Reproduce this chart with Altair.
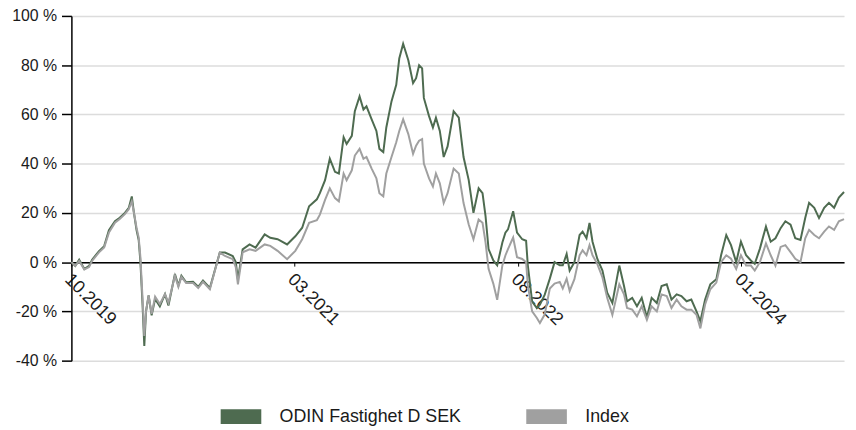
import altair as alt
import pandas as pd

series_names = ["ODIN Fastighet D SEK", "Index"]
series_colors = ["#4e6b50", "#a0a0a0"]
y_ticks = [-40, -20, 0, 20, 40, 60, 80, 100]
x_tick_dates = [(2019, 10, 1), (2021, 3, 1), (2022, 8, 1), (2024, 1, 1)]
x_domain = [(2019, 10, 1), (2024, 8, 26)]

dates = [
    "2019-10-01", "2019-10-10", "2019-10-19", "2019-10-31", "2019-11-11", "2019-11-18", "2019-12-04", "2019-12-16", "2019-12-27",
    "2020-01-10", "2020-01-21", "2020-02-02", "2020-02-11", "2020-02-18", "2020-02-23", "2020-02-29", "2020-03-05", "2020-03-09", "2020-03-14",
    "2020-03-18", "2020-03-22", "2020-03-28", "2020-04-04", "2020-04-12", "2020-04-23", "2020-05-05", "2020-05-13", "2020-05-28", "2020-06-05",
    "2020-06-12", "2020-06-23", "2020-07-09", "2020-07-21", "2020-08-01", "2020-08-17", "2020-09-09", "2020-09-21", "2020-10-09", "2020-10-16",
    "2020-10-21", "2020-11-01", "2020-11-17", "2020-12-01", "2020-12-22",
    "2021-01-04", "2021-01-21", "2021-02-12", "2021-03-03", "2021-03-19", "2021-04-04", "2021-04-22", "2021-04-29", "2021-05-11", "2021-05-22",
    "2021-06-03", "2021-06-12", "2021-06-23", "2021-06-30", "2021-07-12", "2021-07-19", "2021-07-30", "2021-08-08", "2021-08-15", "2021-08-27",
    "2021-09-07", "2021-09-14", "2021-09-23", "2021-09-30", "2021-10-12", "2021-10-23", "2021-10-30", "2021-11-08", "2021-11-20", "2021-12-01",
    "2021-12-08", "2021-12-15", "2021-12-22", "2021-12-26",
    "2022-01-07", "2022-01-16", "2022-01-23", "2022-02-01", "2022-02-10", "2022-02-19", "2022-03-05", "2022-03-17", "2022-03-28", "2022-04-09",
    "2022-04-20", "2022-05-02", "2022-05-11", "2022-05-18", "2022-05-25", "2022-06-05", "2022-06-14", "2022-06-26", "2022-07-03", "2022-07-09",
    "2022-07-21", "2022-07-30", "2022-08-11", "2022-08-20", "2022-08-24", "2022-09-03", "2022-09-14", "2022-09-21", "2022-10-02", "2022-10-14",
    "2022-10-25", "2022-11-06", "2022-11-13", "2022-11-22", "2022-11-29", "2022-12-10", "2022-12-22", "2022-12-29",
    "2023-01-07", "2023-01-14", "2023-01-21", "2023-02-01", "2023-02-13", "2023-02-24", "2023-03-08", "2023-03-24", "2023-04-04", "2023-04-11",
    "2023-04-23", "2023-05-04", "2023-05-15", "2023-05-27", "2023-06-07", "2023-06-19", "2023-06-30", "2023-07-12", "2023-07-23", "2023-08-04",
    "2023-08-15", "2023-08-27", "2023-09-07", "2023-09-19", "2023-09-28", "2023-10-09", "2023-10-21", "2023-11-04", "2023-11-15", "2023-11-27",
    "2023-12-08", "2023-12-20", "2023-12-31",
    "2024-01-12", "2024-01-23", "2024-02-01", "2024-02-13", "2024-02-27", "2024-03-09", "2024-03-20", "2024-04-01", "2024-04-12", "2024-04-24",
    "2024-05-05", "2024-05-17", "2024-05-28", "2024-06-06", "2024-06-18", "2024-06-29", "2024-07-11", "2024-07-22", "2024-08-03", "2024-08-14",
    "2024-08-26",
]

odin = [
    0, -1.5, 1.0, -2.8, -1.5, 1.0, 4.5, 6.5, 13,
    16.6, 18, 20, 22, 26.7, 20, 13, 9, 0, -17.6, -34, -20, -13.5, -21.6, -15, -18, -13, -17.6, -4.8, -9.5,
    -5.5, -8.2, -8, -10, -7.5, -10.5, 3.9, 3.9, 2.5, 0, -7, 5.2, 7.2, 5.9, 11.3,
    9.9, 9.3, 7.2, 10.5, 14, 22.7, 25.5, 28, 33.3, 42, 36.7, 36, 50.7, 48, 51.3, 61.3, 67.3, 62, 63.3, 58,
    53.3, 46, 44.7, 54.7, 65.3, 72, 82.7, 88.7, 82, 72.7, 74.7, 80, 78.7, 66.7,
    59.3, 54.7, 58.7, 53.3, 42.7, 47, 61.3, 58.7, 42.7, 33.3, 20, 30, 28, 18.7, 5.3, 0.7, -1.3, 8, 12, 13.3,
    20.7, 12, 9.3, 8.7, -1.3, -16, -18.7, -17.3, -13.3, -6.7, 0, -1.3, -1.3, 3.3, -3.4, 0, 11, 12.4,
    9.7, 15.9, 8.3, 1.4, -3.4, -12.4, -16.6, -1.4, -9.7, -15.9, -14.5, -17.9, -14.5, -22.5, -14.5, -16.6, -9.7, -9, -15.2, -13.1,
    -13.8, -15.9, -15.2, -20, -24, -15.2, -9, -6.9, 2.8, 11, 6.9, 0, 8.3,
    2.8, 0.7, -0.7, 5.5, 14.5, 8.3, 9.7, 13.8, 16.6, 15.2, 9.7, 9, 17.9, 24.1, 22.1, 17.9, 22.1, 24.1, 22.1, 26.2, 28.5,
]

index = [
    0, -1.5, 0.5, -3.0, -2.0, 0.5, 4.0, 6.0, 12,
    16, 17.5, 19.5, 21.5, 24.7, 20, 14, 10, 2, -15, -30, -20, -13.5, -21, -14, -17, -13, -16.5, -5.5, -10,
    -6, -8.5, -8.5, -10.5, -8, -11, 3.9, 2.5, 1.2, -2, -9, 4, 5.2, 4.6, 7.2,
    6.6, 4.6, 1.2, 4.6, 9.3, 16, 17, 19.3, 25.3, 30, 26, 24.7, 36, 33.3, 37.3, 43.3, 46, 42, 42.7, 38,
    34, 28, 26.7, 36, 42.7, 48.7, 53.3, 58, 52, 44, 47.3, 49.3, 50, 40,
    34, 30.7, 36, 32, 24, 28, 38, 36, 24, 15.3, 9.3, 17.3, 16, 8, -2.7, -8.7, -15.3, -1.3, 2.7, 5.3,
    10, 2, 1.3, 0, -9.3, -20, -22.7, -24.7, -21.3, -10.7, -8.7, -8, -10.7, -6.7, -11.7, -6.9, 2.8, 4.8,
    2.8, 6.9, 2.8, -0.7, -6.2, -14.5, -21.4, -9, -13.1, -18.6, -19.3, -22, -17.9, -23.4, -17.9, -20, -13.1, -13.8, -18.6, -15.2,
    -17.9, -19.3, -19.3, -21.4, -26.9, -17.2, -11, -8.3, 0, 2.8, 1.4, -2.8, 2.8,
    -1.4, -1.4, -3.4, 0, 7.6, 2.8, -1.4, 6.2, 6.9, 4.1, 1.4, 0, 9.7, 13.1, 11, 9.7, 12.4, 14.5, 13.1, 16.6, 17.5,
]

n = min(len(dates), len(odin), len(index))
df = pd.DataFrame({
    "date": dates[:n] * 2,
    "value": odin[:n] + index[:n],
    "series": [series_names[0]] * n + [series_names[1]] * n,
})

W, H = 780, 348
FONT = "Liberation Sans"


def dt(t):
    return alt.DateTime(year=t[0], month=t[1], date=t[2], utc=True)


x_enc = alt.X(
    "date:T",
    scale=alt.Scale(domain=[dt(d) for d in x_domain]),
    axis=alt.Axis(
        values=[dt(d) for d in x_tick_dates],
        labelExpr="utcFormat(datum.value, '%m.%Y')",
        labelAngle=45,
        labelAlign="left",
        labelBaseline="top",
        labelPadding=4,
        labelOffset=2,
        labelFontSize=18,
        offset=-H * 40 / 140,
        domainColor="#000000",
        domainWidth=1.5,
        tickColor="#000000",
        tickSize=4,
        grid=False,
        title=None,
    ),
)

y_enc = alt.Y(
    "value:Q",
    scale=alt.Scale(domain=[-40, 100], nice=False),
    axis=alt.Axis(
        values=y_ticks,
        labelExpr="datum.value + ' %'",
        labelFontSize=16,
        labelPadding=5,
        domainColor="#000000",
        domainWidth=1.5,
        tickColor="#000000",
        tickSize=10,
        tickWidth=1.5,
        gridColor="#dcdcdc",
        gridWidth=1.5,
        title=None,
    ),
)

color_enc = alt.Color(
    "series:N",
    scale=alt.Scale(domain=series_names, range=series_colors),
    legend=alt.Legend(
        orient="none",
        legendX=143.2,
        legendY=376.5,
        direction="horizontal",
        title=None,
        symbolType="stroke",
        symbolSize=1681,
        symbolStrokeWidth=15,
        labelFontSize=18,
        labelOffset=11,
        labelLimit=400,
        columnPadding=34.5,
        padding=0,
    ),
)

base = alt.Chart(df).mark_line(strokeWidth=2, interpolate="linear")

odin_line = base.transform_filter(alt.datum.series == series_names[0]).encode(x=x_enc, y=y_enc, color=color_enc)
index_line = base.transform_filter(alt.datum.series == series_names[1]).encode(x=x_enc, y=y_enc, color=color_enc)

chart = (
    alt.layer(odin_line, index_line)
    .properties(
        width=W,
        height=H,
        autosize=alt.AutoSizeParams(type="none"),
        padding={"left": 64, "top": 6, "right": 4, "bottom": 66},
    )
    .configure_view(stroke=None)
    .configure_axis(labelFont=FONT, labelColor="#1a1a1a")
    .configure_legend(labelFont=FONT, labelColor="#1a1a1a")
)

chart.save("out.html", embed_options={"renderer": "svg", "actions": False})
